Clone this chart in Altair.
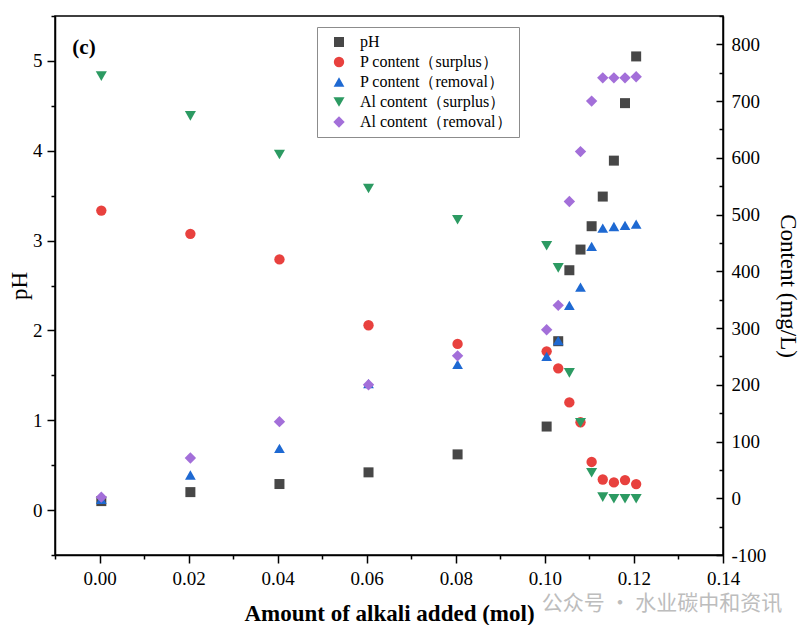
import altair as alt
import pandas as pd

# ---- data ----
x_vals = [0.0004, 0.0204, 0.0404, 0.0604, 0.0804, 0.1004, 0.103, 0.1055,
          0.108, 0.1105, 0.113, 0.1155, 0.118, 0.1205]
ph_vals = [0.10, 0.20, 0.29, 0.42, 0.62, 0.93, 1.88, 2.67, 2.90, 3.16,
           3.49, 3.89, 4.53, 5.05]
p_surplus = [507, 466, 421, 305, 272, 259, 229, 169, 134, 64, 33, 28, 32, 25]
p_removal = [-2, 41, 88, 202, 236, 250, 278, 340, 372, 444, 476, 479, 481, 483]
al_surplus = [744, 674, 606, 546, 491, 445, 406, 221, 133, 45, 2, -1, -1, -1]
al_removal = [2, 71, 135, 200, 251, 297, 340, 523, 611, 700, 741, 741, 741, 743]

series_names = ["pH", "P content（surplus）", "P content（removal）",
                "Al content（surplus）", "Al content（removal）"]
series_colors = ["#474747", "#e8413e", "#1e69d2", "#2c9a62", "#a36fd9"]
series_shapes = ["square", "circle", "triangle-up", "triangle-down", "diamond"]
series_sizes = [100, 130, 165, 165, 160]

x_ticks = [round(-0.01 + 0.01 * i, 2) for i in range(16)]
ph_ticks = [-0.5 + 0.5 * i for i in range(13)]
content_ticks = list(range(-100, 851, 50))

FONT = "Liberation Serif"

ph_df = pd.DataFrame({"x": x_vals, "v": ph_vals, "series": series_names[0]})
rows = []
for name, vals in zip(series_names[1:], [p_surplus, p_removal, al_surplus, al_removal]):
    for xv, v in zip(x_vals, vals):
        rows.append({"x": xv, "v": v, "series": name})
content_df = pd.DataFrame(rows)

color_scale = alt.Scale(domain=series_names, range=series_colors)
shape_scale = alt.Scale(domain=series_names, range=series_shapes)
size_scale = alt.Scale(domain=series_names, range=series_sizes)

x_enc = alt.X(
    "x:Q",
    scale=alt.Scale(domain=[-0.01, 0.14], nice=False, zero=False),
    axis=alt.Axis(
        title="Amount of alkali added (mol)",
        values=x_ticks,
        labelExpr="round(datum.value*100) % 2 == 0 ? format(datum.value, '.2f') : ''",
        tickSize={"condition": {"test": "round(datum.value*100) % 2 == 0", "value": 8}, "value": 4},
        labelOverlap=False,
        labelFlush=False,
        labelPadding=6,
        labelFont=FONT,
        labelFontSize=19,
        titleFont=FONT,
        titleFontWeight="bold",
        titleFontSize=23,
        titlePadding=14,
    ),
)

common_enc = dict(
    color=alt.Color("series:N", scale=color_scale, legend=alt.Legend(title=None)),
    shape=alt.Shape("series:N", scale=shape_scale, legend=alt.Legend(title=None)),
    size=alt.Size("series:N", scale=size_scale, legend=None),
)

ph_layer = alt.Chart(ph_df).mark_point(filled=True, opacity=1).encode(
    x=x_enc,
    y=alt.Y(
        "v:Q",
        scale=alt.Scale(domain=[-0.5, 5.5], nice=False, zero=False),
        axis=alt.Axis(
            title="pH",
            orient="left",
            values=ph_ticks,
            labelExpr="datum.value % 1 == 0 ? datum.value : ''",
            tickSize={"condition": {"test": "datum.value % 1 == 0", "value": 8}, "value": 4},
            labelOverlap=False,
            labelFlush=False,
            labelPadding=5,
            labelFont=FONT,
            labelFontSize=19,
            titleFont=FONT,
            titleFontSize=23,
            titleFontWeight="normal",
            titlePadding=1,
        ),
    ),
    **common_enc,
)

content_layer = alt.Chart(content_df).mark_point(filled=True, opacity=1).encode(
    x=x_enc,
    y=alt.Y(
        "v:Q",
        scale=alt.Scale(domain=[-100, 850], nice=False, zero=False),
        axis=alt.Axis(
            title="Content (mg/L)",
            orient="right",
            values=content_ticks,
            labelExpr="datum.value % 100 == 0 ? datum.value : ''",
            tickSize={"condition": {"test": "datum.value % 100 == 0", "value": -7}, "value": -4},
            labelOverlap=False,
            labelFlush=False,
            labelPadding=15,
            labelFont=FONT,
            labelFontSize=19,
            titleFont=FONT,
            titleFontSize=23,
            titleFontWeight="normal",
            titlePadding=10,
        ),
    ),
    **common_enc,
)

label_df = pd.DataFrame({"t": ["(c)"]})
panel_label = alt.Chart(label_df).mark_text(
    font=FONT, fontSize=21, fontWeight="bold", color="black", align="center", baseline="middle"
).encode(text="t:N", x=alt.value(29), y=alt.value(32))

wm_df = pd.DataFrame({"t": ["公众号 · 水业碳中和资讯"]})
watermark = alt.Chart(wm_df).mark_text(
    font="Noto Sans CJK SC", fontSize=21, color="#bdbdbd", align="center", baseline="middle"
).encode(text="t:N", x=alt.value(607), y=alt.value(588))

chart = alt.layer(ph_layer, content_layer, panel_label, watermark).resolve_scale(
    y="independent"
).properties(
    width=668,
    height=539,
    autosize=alt.AutoSizeParams(type="none"),
    padding={"left": 47, "top": 8, "right": 80, "bottom": 70},
).configure_view(
    stroke="black", strokeWidth=1.5
).configure_axis(
    grid=False,
    domainColor="black",
    domainWidth=1.5,
    tickColor="black",
    tickWidth=1.5,
    labelFont=FONT,
    labelFontSize=19,
    labelColor="black",
    titleFont=FONT,
    titleColor="black",
).configure_legend(
    orient="none",
    legendX=262,
    legendY=11,
    padding=7,
    strokeColor="#8c8c8c",
    fillColor="white",
    labelFont=FONT,
    labelFontSize=16,
    labelColor="black",
    symbolSize=110,
    symbolStrokeWidth=0,
    symbolOffset=7,
    rowPadding=4,
    labelOffset=13,
)

chart.save("out.html", embed_options={"renderer": "svg", "actions": False})
